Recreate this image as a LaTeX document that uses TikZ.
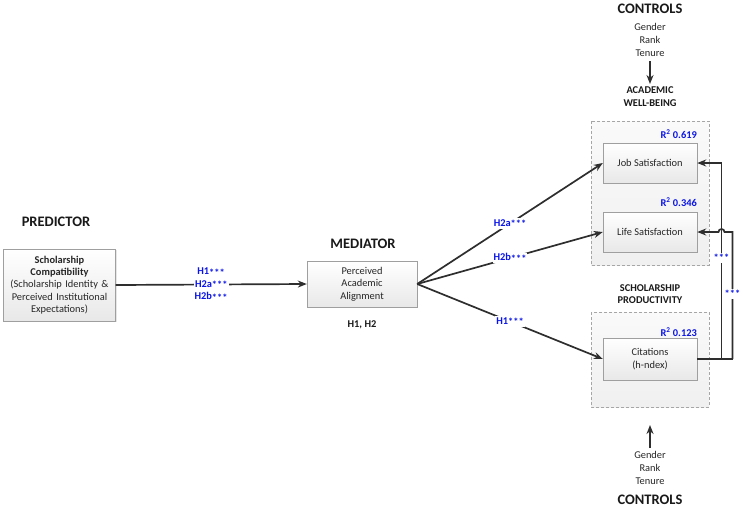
\documentclass[tikz,border=0pt]{standalone}
\usepackage{fontspec}
\setmainfont{Carlito}
\usetikzlibrary{arrows.meta,shadows}
\definecolor{ln}{HTML}{2E2E2E}
\definecolor{hb}{HTML}{0A14E6}
\newcommand{\stars}{\raisebox{-1.6pt}{***}}
\tikzset{
  x=1pt,y=-1pt,
  boxstyle/.style={draw=gray!75, top color=white, bottom color=gray!18, drop shadow={opacity=0.2,shadow xshift=1pt,shadow yshift=-1pt}, align=center, text=black!85, font=\fontsize{10.4}{12.4}\selectfont, inner sep=2pt},
  grp/.style={draw=gray!70, dashed, dash pattern=on 3pt off 2pt, top color=gray!4, bottom color=gray!12},
  conn/.style={draw=ln, line width=1.7pt},
  arr/.style={conn, -{Stealth[length=9pt,width=7pt]}},
  hlab/.style={text=hb, font=\bfseries\fontsize{10.4}{12}\selectfont, inner sep=1pt},
  hlabw/.style={hlab, fill=white},
  head/.style={font=\bfseries\fontsize{14.5}{16}\selectfont, text=black!90},
  subhead/.style={font=\bfseries\fontsize{10.4}{12.5}\selectfont, text=black!90, align=center},
  ctrl/.style={font=\fontsize{10.4}{13}\selectfont, text=black!85, align=center},
  rsq/.style={text=hb, font=\bfseries\fontsize{10.4}{12}\selectfont, anchor=east, inner sep=0pt}
}
\begin{document}
\begin{tikzpicture}
\useasboundingbox (0,0) rectangle (743,509);
% group boxes
\path[grp] (591,121) rectangle (709,265);
\path[grp] (591,312) rectangle (709,407);
% headings
\node[head] (hpred) at (56,222) {PREDICTOR};
\node[head] (hmed) at (363,244) {MEDIATOR};
\node[head] (hctop) at (650,9) {CONTROLS};
\node[head] (hcbot) at (650,500) {CONTROLS};
\node[subhead] (hwb) at (650,96.5) {ACADEMIC\\WELL-BEING};
\node[subhead] (hsp) at (650,294) {SCHOLARSHIP\\PRODUCTIVITY};
\node[subhead] (hh) at (362,325) {H1, H2};
% controls
\node[ctrl] (ctop) at (650,40) {Gender\\Rank\\Tenure};
\node[ctrl] (cbot) at (650,467.5) {Gender\\Rank\\Tenure};
\coordinate (ctopa) at (650,61);
\coordinate (ctopb) at (650,84);
\coordinate (cbota) at (650,448);
\coordinate (cbotb) at (650,425);
\draw[arr] (ctopa) -- (ctopb);
\draw[arr] (cbota) -- (cbotb);
% boxes
\node[boxstyle, minimum width=112, minimum height=72, text width=108] (pred) at (59.5,285) {\textbf{Scholarship}\\\textbf{Compatibility}\\(Scholarship Identity \&\\Perceived Institutional\\Expectations)};
\node[boxstyle, minimum width=110, minimum height=46] (med) at (362,284) {Perceived\\Academic\\Alignment};
\node[boxstyle, minimum width=94, minimum height=40] (job) at (650,163) {Job Satisfaction};
\node[boxstyle, minimum width=94, minimum height=40] (life) at (650,232) {Life Satisfaction};
\node[boxstyle, minimum width=94, minimum height=42] (cit) at (650,359) {Citations\\(h-ndex)};
% R squared
\node[rsq] (r1) at (697,134) {R\textsuperscript{2} 0.619};
\node[rsq] (r2) at (697,202) {R\textsuperscript{2} 0.346};
\node[rsq] (r3) at (697,332) {R\textsuperscript{2} 0.123};
% main paths
\draw[arr] (pred.east) -- node[hlabw] (l2a) {H2a\stars} (med.west);
\node[hlab] (l1) at (211,272) {H1\stars};
\node[hlab] (l2b) at (211,297) {H2b\stars};
\draw[arr] (med.east) -- node[hlabw] (m2a) {H2a\stars} (job.west);
\draw[arr] (med.east) -- node[hlabw] (m2b) {H2b\stars} (life.west);
\draw[arr] (med.east) -- node[hlabw] (m1) {H1\stars} (cit.west);
% feedback paths
\coordinate (f1) at (721.5,359);
\coordinate (f2) at (732.5,359);
\coordinate (f1t) at (721.5,163);
\coordinate (f2t) at (732.5,232);
\coordinate (jr) at (724.5,232);
\draw[conn] (cit.east) -- (f2);
\draw[arr] (f1) -- (f1t) -- (job.east);
\draw[arr] (f2) -- (f2t) -- (jr) arc[start angle=0,end angle=180,radius=3pt] -- (life.east);
\node[hlabw] (s1) at (721.5,258) {\stars};
\node[hlabw] (s2) at (732.5,294) {\stars};
\end{tikzpicture}
\end{document}
